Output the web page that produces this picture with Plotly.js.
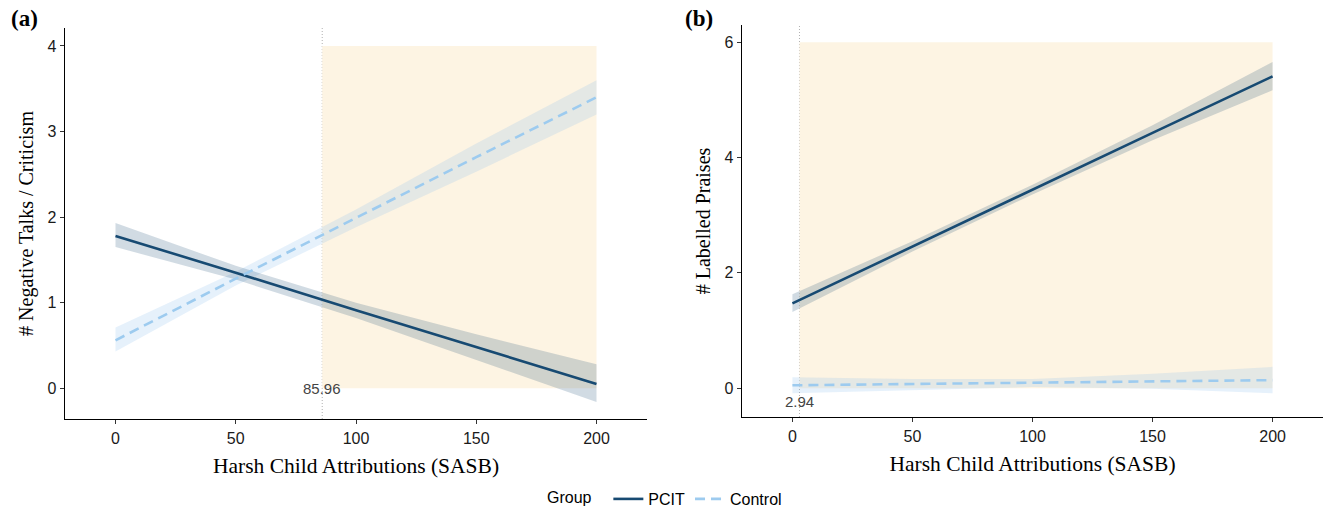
<!DOCTYPE html>
<html>
<head>
<meta charset="utf-8">
<script src="https://cdn.plot.ly/plotly-3.0.1.min.js"></script>
<style>html,body{margin:0;padding:0;background:#fff;}#chart{width:1326px;height:516px;}</style>
</head>
<body>
<div id="chart"></div>
<script>
// ---- Data ----
const xGrid = [0, 50, 100, 150, 200];

// Panel (a): # Negative Talks / Criticism
const aPcitFit   = [1.78, 1.35, 0.91, 0.48, 0.05];
const aPcitLow   = [1.65, 1.27, 0.82, 0.33, -0.16];
const aPcitHigh  = [1.93, 1.43, 1.00, 0.63, 0.28];
const aCtrlFit   = [0.56, 1.28, 1.99, 2.70, 3.40];
const aCtrlLow   = [0.43, 1.20, 1.88, 2.53, 3.20];
const aCtrlHigh  = [0.71, 1.36, 2.09, 2.86, 3.60];
const aJN = 85.96;           // Johnson–Neyman point
const aRegionTop = 4;        // shaded region top
const aLabelY = 0;

// Panel (b): # Labelled Praises
const bPcitFit   = [1.47, 2.46, 3.44, 4.43, 5.41];
const bPcitLow   = [1.32, 2.37, 3.36, 4.30, 5.17];
const bPcitHigh  = [1.63, 2.55, 3.53, 4.56, 5.66];
const bCtrlFit   = [0.05, 0.07, 0.09, 0.12, 0.14];
const bCtrlLow   = [-0.09, -0.03, 0.02, -0.01, -0.09];
const bCtrlHigh  = [0.19, 0.16, 0.16, 0.25, 0.37];
const bJN = 2.94;
const bRegionTop = 6;
const bLabelY = -0.23;

const regionEnd = 200;
const xTicks = [0, 50, 100, 150, 200];
const aYTicks = [0, 1, 2, 3, 4];
const bYTicks = [0, 2, 4, 6];
const groups = ["PCIT", "Control"];

// ---- Styles ----
const pcitColor = "#174a72";
const ctrlColor = "#9dcbef";
const pcitBand = "rgba(23,74,114,0.2)";
const ctrlBand = "rgba(140,190,235,0.22)";
const regionColor = "#fdf4e3";
const serif = "Liberation Serif, Times New Roman, serif";
const sans = "Liberation Sans, Arial, sans-serif";

function band(x, lo, hi, fill, xa, ya) {
  return {
    x: x.concat(x.slice().reverse()),
    y: lo.concat(hi.slice().reverse()),
    fill: "toself", fillcolor: fill, line: {width: 0},
    mode: "lines", hoverinfo: "skip", showlegend: false,
    xaxis: xa, yaxis: ya
  };
}
function line(x, y, color, dash, name, show, xa, ya) {
  return {
    x: x, y: y, mode: "lines", name: name, legendgroup: name,
    line: {color: color, width: 2.6, dash: dash},
    showlegend: show, xaxis: xa, yaxis: ya
  };
}

const traces = [
  band(xGrid, aCtrlLow, aCtrlHigh, ctrlBand, "x", "y"),
  band(xGrid, aPcitLow, aPcitHigh, pcitBand, "x", "y"),
  band(xGrid, bCtrlLow, bCtrlHigh, ctrlBand, "x2", "y2"),
  band(xGrid, bPcitLow, bPcitHigh, pcitBand, "x2", "y2"),
  line(xGrid, aPcitFit, pcitColor, "solid", groups[0], true, "x", "y"),
  line(xGrid, aCtrlFit, ctrlColor, "10px,6px", groups[1], true, "x", "y"),
  line(xGrid, bPcitFit, pcitColor, "solid", groups[0], false, "x2", "y2"),
  line(xGrid, bCtrlFit, ctrlColor, "10px,6px", groups[1], false, "x2", "y2")
];

const W = 1326, H = 516;
const xAxisBase = {
  range: [-21, 221], tickvals: xTicks, ticktext: xTicks.map(String),
  showline: true, linecolor: "#000", linewidth: 1.3, mirror: false,
  ticks: "outside", ticklen: 4, tickcolor: "#333", tickwidth: 1,
  showgrid: false, zeroline: false, automargin: false,
  tickfont: {family: sans, size: 16, color: "#1a1a1a"},
  title: {text: "Harsh Child Attributions (SASB)", font: {family: serif, size: 21.5, color: "#000"}, standoff: 12}
};
const yAxisBase = {
  showline: true, linecolor: "#000", linewidth: 1.3, mirror: false,
  ticks: "outside", ticklen: 4, tickcolor: "#333", tickwidth: 1,
  showgrid: false, zeroline: false, automargin: false,
  tickfont: {family: sans, size: 16, color: "#1a1a1a"}
};

const layout = {
  width: W, height: H,
  margin: {l: 0, r: 0, t: 0, b: 0},
  paper_bgcolor: "#fff", plot_bgcolor: "rgba(0,0,0,0)",
  showlegend: true,
  legend: {
    orientation: "h", x: 0.411, xanchor: "left", y: 0.0, yanchor: "bottom",
    title: {text: "Group  ", font: {family: sans, size: 16, color: "#000"}},
    font: {family: sans, size: 16, color: "#000"},
    itemwidth: 30, tracegroupgap: 0
  },
  xaxis: Object.assign({}, xAxisBase, {domain: [65/W, 647/W], anchor: "y"}),
  yaxis: Object.assign({}, yAxisBase, {
    domain: [(H-419)/H, (H-28)/H], anchor: "x",
    range: [-0.36, 4.21], tickvals: aYTicks, ticktext: aYTicks.map(String),
    title: {text: "# Negative Talks / Criticism", font: {family: serif, size: 20, color: "#000"}, standoff: 8}
  }),
  xaxis2: Object.assign({}, xAxisBase, {domain: [742/W, 1323/W], anchor: "y2"}),
  yaxis2: Object.assign({}, yAxisBase, {
    domain: [(H-417)/H, (H-25)/H], anchor: "x2",
    range: [-0.5, 6.3], tickvals: bYTicks, ticktext: bYTicks.map(String),
    title: {text: "# Labelled Praises", font: {family: serif, size: 20, color: "#000"}, standoff: 8}
  }),
  shapes: [
    {type: "rect", xref: "x", yref: "y", x0: aJN, x1: regionEnd, y0: 0, y1: aRegionTop,
     fillcolor: regionColor, line: {width: 0}, layer: "below"},
    {type: "rect", xref: "x2", yref: "y2", x0: bJN, x1: regionEnd, y0: 0, y1: bRegionTop,
     fillcolor: regionColor, line: {width: 0}, layer: "below"},
    {type: "line", xref: "x", yref: "y domain", x0: aJN, x1: aJN, y0: 0, y1: 1,
     line: {color: "#b0b0b0", width: 1, dash: "1px,2px"}, layer: "below"},
    {type: "line", xref: "x2", yref: "y2 domain", x0: bJN, x1: bJN, y0: 0, y1: 1,
     line: {color: "#b0b0b0", width: 1, dash: "1px,2px"}, layer: "below"}
  ],
  annotations: [
    {text: "<b>(a)</b>", xref: "paper", yref: "paper", x: 9/W, y: (H-19)/H, xanchor: "left", yanchor: "middle",
     showarrow: false, font: {family: serif, size: 23, color: "#000"}},
    {text: "<b>(b)</b>", xref: "paper", yref: "paper", x: 683/W, y: (H-19)/H, xanchor: "left", yanchor: "middle",
     showarrow: false, font: {family: serif, size: 23, color: "#000"}},
    {text: aJN.toFixed(2), xref: "x", yref: "y", x: aJN, y: aLabelY, xanchor: "center", yanchor: "middle",
     showarrow: false, font: {family: sans, size: 15, color: "#444"}},
    {text: bJN.toFixed(2), xref: "x2", yref: "y2", x: bJN, y: bLabelY, xanchor: "center", yanchor: "middle",
     showarrow: false, font: {family: sans, size: 15, color: "#444"}}
  ]
};

Plotly.newPlot("chart", traces, layout, {displayModeBar: false, staticPlot: true});
</script>
</body>
</html>
